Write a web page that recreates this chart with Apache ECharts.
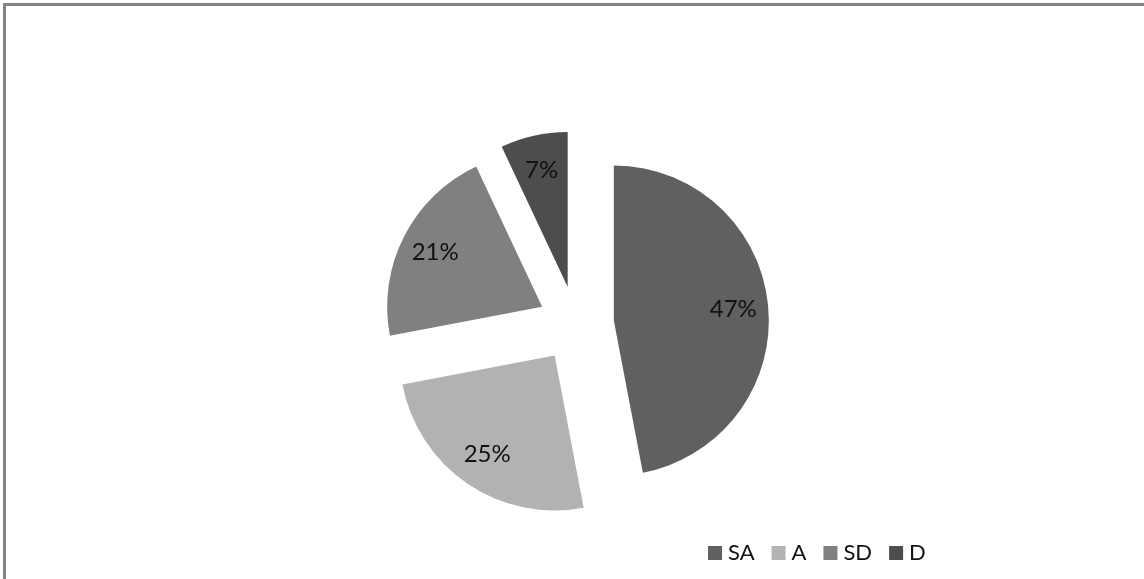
<!doctype html>
<html>
<head>
<meta charset="utf-8">
<title></title>
<script src="https://cdn.jsdelivr.net/npm/echarts@6/dist/echarts.min.js"></script>
<style type="text/css">
    html, body { margin: 0; padding: 0; background: #fff; overflow: hidden; }
    #frame { position: absolute; left: 3px; top: 3px; width: 1200px; height: 640px;
             border-top: 3px solid #858585; border-left: 3px solid #858585; box-sizing: border-box; }
    #chart { position: absolute; left: 0; top: 0; width: 1144px; height: 579px; }
</style>
</head>
<body>
<div id="frame"></div>
<div id="chart"></div>
<script type="text/javascript">
    var categories = ['SA', 'A', 'SD', 'D'];
    var values = [47, 25, 21, 7];
    var colors = ['#606060', '#b2b2b2', '#808080', '#4d4d4d'];

    var pieData = [], labelData = [];
    for (var i = 0; i < categories.length; i++) {
        pieData.push({name: categories[i], value: values[i], selected: true, itemStyle: {color: colors[i]}});
        labelData.push({name: categories[i], value: values[i], selected: true});
    }

    var font = 'Lato, "Open Sans", sans-serif';
    var chart = echarts.init(document.getElementById('chart'));
    chart.setOption({
        animation: false,
        legend: {
            data: categories,
            left: 703,
            top: 537,
            itemWidth: 14,
            itemHeight: 14,
            itemGap: 17,
            icon: 'rect',
            textStyle: {fontFamily: font, fontSize: 22, color: '#111', padding: [0, 0, 0, 1]}
        },
        series: [{
            type: 'pie',
            center: [576, 324],
            radius: [0, 155],
            startAngle: 90,
            clockwise: true,
            selectedMode: 'multiple',
            selectedOffset: 38,
            silent: true,
            label: {show: false},
            labelLine: {show: false},
            emphasis: {disabled: true},
            data: pieData
        }, {
            // transparent ring used only to place the percentage labels
            type: 'pie',
            center: [576, 324],
            radius: [79, 155],
            startAngle: 90,
            clockwise: true,
            selectedMode: 'multiple',
            selectedOffset: 38,
            silent: true,
            itemStyle: {color: 'rgba(0,0,0,0)'},
            label: {
                show: true,
                position: 'inside',
                formatter: '{d}%',
                fontFamily: font,
                fontSize: 24,
                color: '#111'
            },
            labelLine: {show: false},
            emphasis: {disabled: true},
            data: labelData
        }]
    });
</script>
</body>
</html>
